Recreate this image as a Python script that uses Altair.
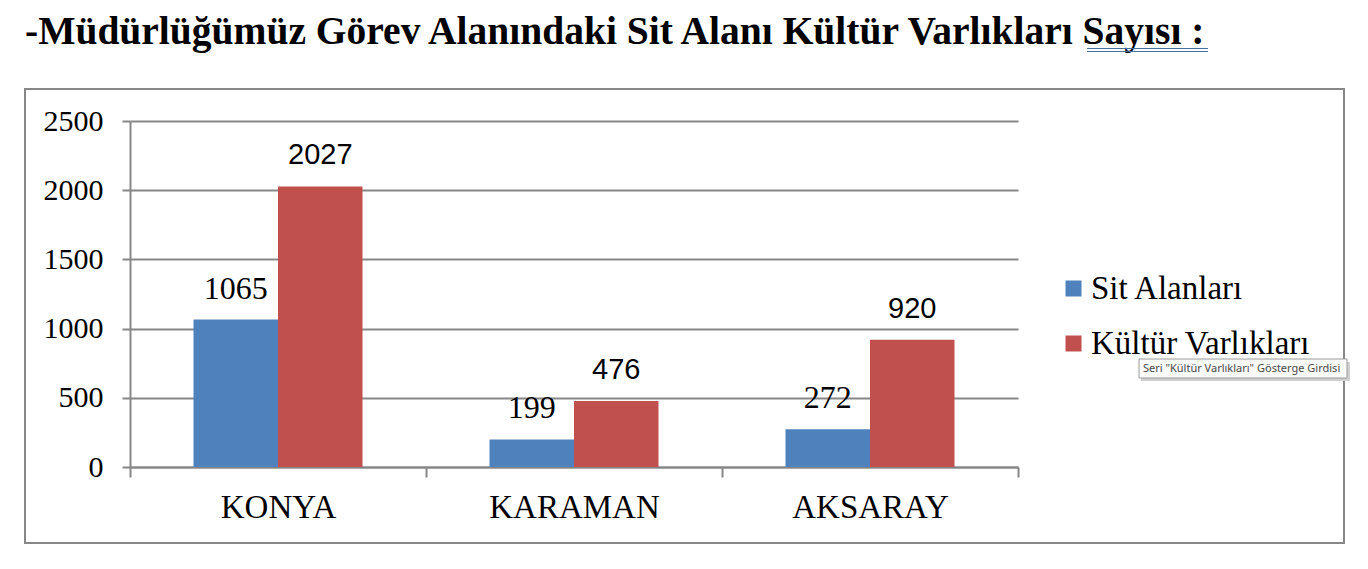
import altair as alt
import pandas as pd

cities = ["KONYA", "KARAMAN", "AKSARAY"]
series = ["Sit Alanları", "Kültür Varlıkları"]
sit_alanlari = [1065, 199, 272]
kultur_varliklari = [2027, 476, 920]
y_ticks = [0, 500, 1000, 1500, 2000, 2500]
colors = ["#4F81BD", "#C0504D"]
title_text = "-Müdürlüğümüz Görev Alanındaki Sit Alanı Kültür Varlıkları Sayısı :"
tooltip_text = 'Seri "Kültür Varlıkları" Gösterge Girdisi'

rows = []
for c, a, b in zip(cities, sit_alanlari, kultur_varliklari):
    rows.append({"il": c, "seri": series[0], "deger": a})
    rows.append({"il": c, "seri": series[1], "deger": b})
df = pd.DataFrame(rows)
one = pd.DataFrame({"k": [0]})

W, H = 888, 346
OX, OY = 130, 121  # plot origin in page pixels
GRAY = "#878787"
SERIF = "Liberation Serif"

x_enc = alt.X(
    "il:N", sort=cities,
    scale=alt.Scale(paddingInner=0, paddingOuter=0),
    axis=alt.Axis(title=None, labelAngle=0, tickBand="extent", tickSize=10,
                  tickColor=GRAY, tickWidth=2, domainColor=GRAY, domainWidth=2,
                  labelFont=SERIF, labelFontSize=33, labelColor="black",
                  labelPadding=14, grid=False),
)
xoff = alt.XOffset("seri:N", sort=series,
                   scale=alt.Scale(paddingInner=0, paddingOuter=0.7515))
y_enc = alt.Y(
    "deger:Q", scale=alt.Scale(domain=[0, 2500], nice=False),
    axis=alt.Axis(title=None, values=y_ticks, format="d", tickSize=8, tickColor=GRAY,
                  tickWidth=2, grid=True, gridColor=GRAY, gridWidth=2,
                  domainColor=GRAY, domainWidth=2,
                  labelFont=SERIF, labelFontSize=30, labelColor="black",
                  labelPadding=19),
)

base = alt.Chart(df)

bars = base.mark_bar().encode(
    x=x_enc, xOffset=xoff, y=y_enc,
    color=alt.Color("seri:N", sort=series,
                    scale=alt.Scale(domain=series, range=colors),
                    legend=alt.Legend(orient="none", legendX=927, legendY=151, title=None,
                                      symbolType="square", symbolSize=256,
                                      symbolStrokeWidth=0, labelFont=SERIF,
                                      labelFontSize=33, labelColor="black", rowPadding=21,
                                      labelOffset=1, labelLimit=400, padding=0)),
)

lab_blue = base.transform_filter(alt.datum.seri == series[0]).mark_text(
    font=SERIF, fontSize=32, dy=-21, baseline="alphabetic",
    align="center", color="black"
).encode(x=x_enc, xOffset=xoff, y=y_enc, text="deger:Q")

lab_red = base.transform_filter(alt.datum.seri == series[1]).mark_text(
    font="Liberation Sans", fontSize=29, dy=-22, baseline="alphabetic",
    align="center", color="black"
).encode(x=x_enc, xOffset=xoff, y=y_enc, text="deger:Q")

src = alt.Chart(one)

border = src.mark_rect(fill="transparent", stroke=GRAY, strokeWidth=2).encode(
    x=alt.value(25 - OX), x2=alt.value(1344 - OX),
    y=alt.value(89 - OY), y2=alt.value(543 - OY))

title = src.mark_text(text=title_text, font=SERIF, fontWeight="bold",
                      fontSize=39.5, align="left", baseline="alphabetic",
                      color="black").encode(x=alt.value(25 - OX), y=alt.value(44 - OY))

ul1 = src.mark_rule(color="#4a6fa5", strokeWidth=1).encode(
    x=alt.value(1087 - OX), x2=alt.value(1208 - OX), y=alt.value(48.5 - OY))
ul2 = src.mark_rule(color="#4a6fa5", strokeWidth=1).encode(
    x=alt.value(1087 - OX), x2=alt.value(1208 - OX), y=alt.value(51.5 - OY))

tip_shadow = src.mark_rect(fill="#d0d0d0").encode(
    x=alt.value(1141 - OX), x2=alt.value(1350 - OX),
    y=alt.value(362 - OY), y2=alt.value(381 - OY))
tip_box = src.mark_rect(fill="#fafafa", stroke="#9a9a9a", strokeWidth=1).encode(
    x=alt.value(1139 - OX), x2=alt.value(1347 - OX),
    y=alt.value(359 - OY), y2=alt.value(378 - OY))
tip_text = src.mark_text(text=tooltip_text, font="Noto Sans", fontSize=11,
                         align="left", baseline="middle", color="#4a4a4a").encode(
    x=alt.value(1143 - OX), y=alt.value(368.5 - OY))

chart = alt.layer(
    border, bars, lab_blue, lab_red, title, ul1, ul2, tip_shadow, tip_box, tip_text
).properties(
    width=W, height=H,
    autosize=alt.AutoSizeParams(type="none"),
    padding={"left": OX - 8, "top": OY - 8, "right": 1352 - (OX - 8) - W, "bottom": 88},
).configure_view(stroke=None).configure_axis(
    labelFont=SERIF, labelColor="black"
).configure_axisY(labelFont=SERIF, labelFontSize=30)

chart.save("out.html", embed_options={"renderer": "svg", "actions": False})
